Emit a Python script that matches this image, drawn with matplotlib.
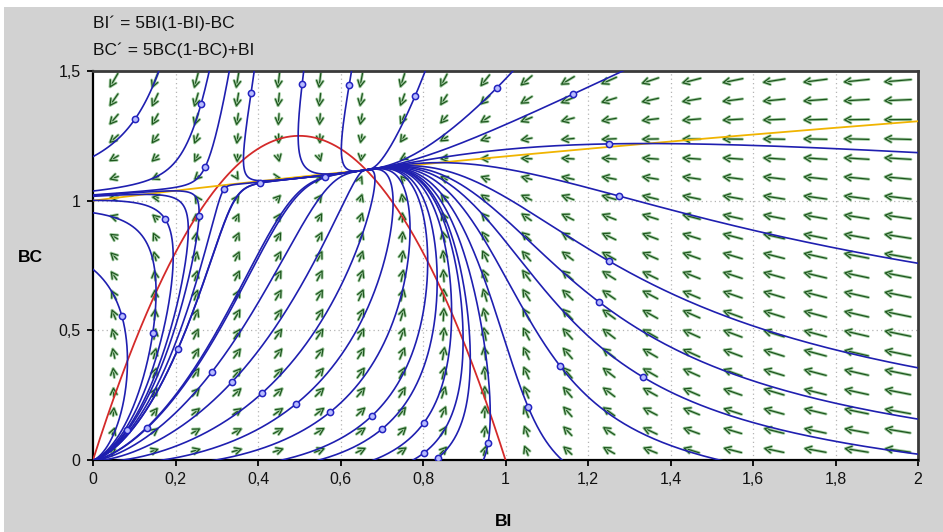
import numpy as np
import matplotlib
matplotlib.use("Agg")
import matplotlib.pyplot as plt
from matplotlib.patches import Rectangle
import matplotlib.patheffects as pe

# ---- model (from the equations shown on the chart) ----
R_BI = 5.0   # BI' = R_BI*BI*(1-BI) - BC
R_BC = 5.0   # BC' = R_BC*BC*(1-BC) + BI
eq_lines = ["BI\u00b4 = 5BI(1-BI)-BC", "BC\u00b4 = 5BC(1-BC)+BI"]

# ---- trajectory seed points (the small circles) ----
seed_bi = [0.102, 0.262, 0.272, 0.175, 0.257, 0.318, 0.383, 0.405, 0.507, 0.562,
           0.621, 0.781, 0.979, 1.164, 1.251, 1.275, 1.251, 1.227, 1.333, 1.132,
           1.055, 0.958, 0.836, 0.802, 0.802, 0.701, 0.676, 0.575, 0.492, 0.410,
           0.337, 0.288, 0.206, 0.145, 0.070, 0.131, 0.082]
seed_bc = [1.315, 1.373, 1.130, 0.929, 0.941, 1.045, 1.415, 1.068, 1.450, 1.091,
           1.446, 1.404, 1.435, 1.411, 1.219, 1.018, 0.767, 0.609, 0.320, 0.363,
           0.204, 0.066, 0.008, 0.027, 0.143, 0.120, 0.170, 0.185, 0.216, 0.258,
           0.301, 0.339, 0.428, 0.490, 0.555, 0.123, 0.116]

x_ticks = [0, 0.2, 0.4, 0.6, 0.8, 1.0, 1.2, 1.4, 1.6, 1.8, 2.0]
x_tick_labels = ["0", "0,2", "0,4", "0,6", "0,8", "1", "1,2", "1,4", "1,6", "1,8", "2"]
y_ticks = [0, 0.5, 1.0, 1.5]
y_tick_labels = ["0", "0,5", "1", "1,5"]
x_range = (0.0, 2.0)
y_range = (0.0, 1.5)
n_arrows_x, n_arrows_y = 20, 20


def field(bi, bc):
    return R_BI * bi * (1 - bi) - bc, R_BC * bc * (1 - bc) + bi


def integrate(b0, c0, sign, dt=0.002, steps=6000):
    b = np.array(b0, float)
    c = np.array(c0, float)
    out = np.full((steps + 1, len(b), 2), np.nan)
    out[0, :, 0] = b
    out[0, :, 1] = c
    active = np.ones(len(b), bool)
    for i in range(steps):
        k1b, k1c = field(b, c)
        k2b, k2c = field(b + 0.5 * sign * dt * k1b, c + 0.5 * sign * dt * k1c)
        k3b, k3c = field(b + 0.5 * sign * dt * k2b, c + 0.5 * sign * dt * k2c)
        k4b, k4c = field(b + sign * dt * k3b, c + sign * dt * k3c)
        b = b + sign * dt / 6 * (k1b + 2 * k2b + 2 * k3b + k4b)
        c = c + sign * dt / 6 * (k1c + 2 * k2c + 2 * k3c + k4c)
        out[i + 1, active, 0] = b[active]
        out[i + 1, active, 1] = c[active]
        outside = (b < -0.03) | (b > 2.03) | (c < -0.03) | (c > 1.53) | (np.hypot(b, c) < 1e-4)
        active &= ~outside
        if not active.any():
            break
    return out


fig = plt.figure(figsize=(9.43, 5.32), dpi=100)
fig.patch.set_facecolor("white")
fig.patches.append(Rectangle((4 / 943, 0), 1, 1 - 7 / 532, transform=fig.transFigure,
                             facecolor="#d2d2d2", edgecolor="none", zorder=-10))

ax = fig.add_axes([93 / 943, (532 - 460) / 532, 825 / 943, 389 / 532])
ax.set_xlim(*x_range)
ax.set_ylim(*y_range)
ax.set_facecolor("white")

# grid
for xv in x_ticks[1:-1]:
    ax.axvline(xv, color="#b4b4b4", lw=0.9, ls=(0, (1, 2.5)), zorder=0)
for yv in y_ticks[1:-1]:
    ax.axhline(yv, color="#b4b4b4", lw=0.9, ls=(0, (1, 2.5)), zorder=0)

# direction field
fig.canvas.draw()
inv = ax.transData.inverted()
gx = x_range[0] + (np.arange(n_arrows_x) + 0.5) * (x_range[1] - x_range[0]) / n_arrows_x
gy = y_range[0] + (np.arange(n_arrows_y) + 0.5) * (y_range[1] - y_range[0]) / n_arrows_y
for xv in gx:
    for yv in gy:
        u, v = field(xv, yv)
        p0 = ax.transData.transform((xv, yv))
        p1 = ax.transData.transform((xv + u * 1e-3, yv + v * 1e-3))
        d = p1 - p0
        nd = np.hypot(*d)
        if nd == 0:
            continue
        d = d / nd
        L = min(2.0 + 7.8 * np.sqrt(np.hypot(u, v)), 28)
        tail = inv.transform(p0 - d * L / 2)
        head = inv.transform(p0 + d * L / 2)
        ax.annotate("", xy=head, xytext=tail, xycoords="data", textcoords="data",
                    arrowprops=dict(arrowstyle="->,head_length=0.45,head_width=0.24",
                                    color="#1e561e", lw=0.9, shrinkA=0, shrinkB=0,
                                    path_effects=[pe.Stroke(linewidth=2.1, foreground="#a3cda3"),
                                                  pe.Normal()]),
                    zorder=2, annotation_clip=False)

# nullclines
xb = np.linspace(0, 1, 300)
ax.plot(xb, R_BI * xb * (1 - xb), color="#d42a2a", lw=1.3, zorder=3)
xo = np.linspace(0, 2, 300)
ax.plot(xo, (1 + np.sqrt(1 + 4 * xo / R_BC)) / 2, color="#f0b400", lw=1.3, zorder=3)

# trajectories
fwd = integrate(seed_bi, seed_bc, +1, steps=7000)
bwd = integrate(seed_bi, seed_bc, -1, steps=4000)
for k in range(len(seed_bi)):
    f = fwd[:, k, :]
    b = bwd[:, k, :]
    f = f[~np.isnan(f[:, 0])]
    b = b[~np.isnan(b[:, 0])]
    path = np.vstack([b[::-1], f[1:]])
    ax.plot(path[:, 0], path[:, 1], color="#1f1fb0", lw=1.2, zorder=4)
ax.plot(seed_bi, seed_bc, ls="none", marker="o", ms=4.5, mfc="#b8bcff", mec="#2323c0",
        mew=1.1, zorder=5)

# axes styling
ax.set_xticks(x_ticks)
ax.set_xticklabels(x_tick_labels)
ax.set_yticks(y_ticks)
ax.set_yticklabels(y_tick_labels)
ax.tick_params(direction="out", length=4, width=1.3, colors="black", labelsize=11.5,
               pad=5)
for lab in ax.get_xticklabels() + ax.get_yticklabels():
    lab.set_fontfamily("Liberation Sans")
    lab.set_color("#111111")
ax.spines["left"].set_linewidth(1.6)
ax.spines["bottom"].set_linewidth(1.6)
ax.spines["top"].set_linewidth(2.0)
ax.spines["right"].set_linewidth(2.0)
ax.spines["top"].set_color("#3a3a3a")
ax.spines["right"].set_color("#3a3a3a")

fig.text(30 / 943, 1 - 258 / 532, "BC", ha="center", va="center", fontsize=12.5,
         fontweight="bold", family="Liberation Sans")
fig.text(504 / 943, 1 - 521 / 532, "BI", ha="center", va="center", fontsize=12.5,
         fontweight="bold", family="Liberation Sans")
fig.text(93 / 943, 1 - 28 / 532, eq_lines[0], ha="left", va="baseline", fontsize=12.5,
         family="Liberation Sans", color="#111111")
fig.text(93 / 943, 1 - 55 / 532, eq_lines[1], ha="left", va="baseline", fontsize=12.5,
         family="Liberation Sans", color="#111111")

fig.savefig("out.png", dpi=100)
